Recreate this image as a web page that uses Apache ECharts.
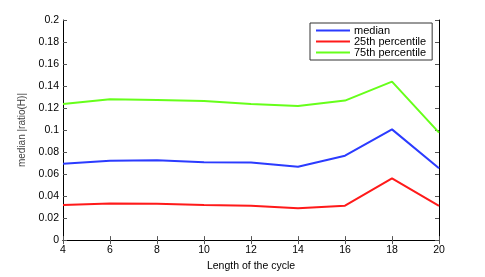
<!DOCTYPE html>
<html><head><meta charset="utf-8">
<script src="https://cdn.jsdelivr.net/npm/echarts@6/dist/echarts.min.js"></script>
<style>html,body{margin:0;padding:0;background:#fff}#c{width:485px;height:277px}</style>
</head><body><div id="c"></div>
<script>
const cycleLength = [4, 6, 8, 10, 12, 14, 16, 18, 20];
const median = [0.0693, 0.0720, 0.0726, 0.0708, 0.0705, 0.0667, 0.0767, 0.1006, 0.0652];
const p25 = [0.0319, 0.0333, 0.0330, 0.0319, 0.0313, 0.0289, 0.0313, 0.0560, 0.0310];
const p75 = [0.1236, 0.1280, 0.1274, 0.1265, 0.1236, 0.1218, 0.1268, 0.1440, 0.0976];
const seriesNames = ['median', '25th percentile', '75th percentile'];
const colors = ['#2b3bff', '#ff1a1a', '#66ff1a'];
const font = 'Liberation Sans, Arial, sans-serif';

const chart = echarts.init(document.getElementById('c'));
const pair = (a) => a.map((v, i) => [cycleLength[i], v]);
const tickStyle = {show: true, inside: true, length: 4, lineStyle: {color: '#555'}};
chart.setOption({
  animation: false,
  grid: {left: 63, right: 46, top: 20, bottom: 31, containLabel: false},
  legend: {
    orient: 'vertical', left: 310, top: 23, itemGap: 0,
    padding: [2, 6, 2, 6],
    borderColor: '#333', borderWidth: 1, backgroundColor: '#fff',
    icon: 'rect', itemWidth: 34, itemHeight: 2,
    textStyle: {fontFamily: font, fontSize: 11, color: '#000', padding: [0, 0, 0, -1], lineHeight: 10.5},
    data: seriesNames
  },
  xAxis: [{
    type: 'value', min: 4, max: 20, interval: 2,
    name: 'Length of the cycle', nameLocation: 'middle', nameGap: 16,
    nameTextStyle: {fontFamily: font, fontSize: 10.5, color: '#000'},
    axisLine: {show: true, lineStyle: {color: '#000'}},
    axisTick: tickStyle, splitLine: {show: false},
    axisLabel: {fontFamily: font, fontSize: 10.5, color: '#000', margin: 5}
  }, {
    type: 'value', position: 'top', min: 4, max: 20, interval: 2,
    axisLine: {show: true, lineStyle: {color: '#000'}},
    axisTick: tickStyle, axisLabel: {show: false}, splitLine: {show: false}
  }],
  yAxis: [{
    type: 'value', min: 0, max: 0.2, interval: 0.02,
    name: 'median |ratio(H)|', nameLocation: 'middle', nameGap: 33,
    nameTextStyle: {fontFamily: font, fontSize: 10, color: '#444'},
    axisLine: {show: true, lineStyle: {color: '#000'}},
    axisTick: tickStyle, splitLine: {show: false},
    axisLabel: {fontFamily: font, fontSize: 10.5, color: '#000', margin: 4,
      formatter: (v) => String(Math.round(v * 100) / 100)}
  }, {
    type: 'value', position: 'right', min: 0, max: 0.2, interval: 0.02,
    axisLine: {show: true, lineStyle: {color: '#000'}},
    axisTick: tickStyle, axisLabel: {show: false}, splitLine: {show: false}
  }],
  series: [
    {name: seriesNames[0], type: 'line', data: pair(median), symbol: 'none', lineStyle: {color: colors[0], width: 2}, itemStyle: {color: colors[0]}},
    {name: seriesNames[1], type: 'line', data: pair(p25), symbol: 'none', lineStyle: {color: colors[1], width: 2}, itemStyle: {color: colors[1]}},
    {name: seriesNames[2], type: 'line', data: pair(p75), symbol: 'none', lineStyle: {color: colors[2], width: 2}, itemStyle: {color: colors[2]}}
  ]
});
</script></body></html>
